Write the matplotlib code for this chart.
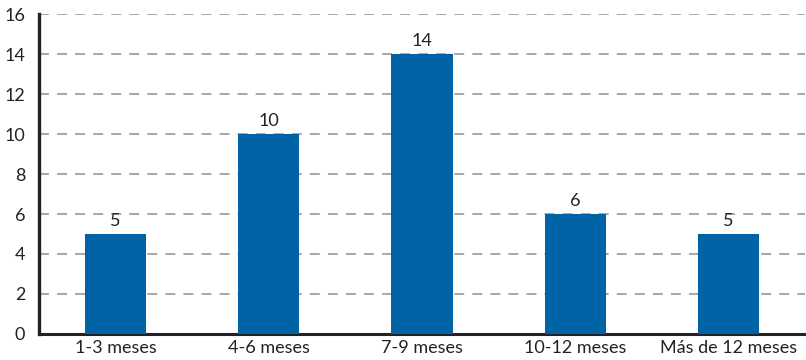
import matplotlib
matplotlib.use('Agg')
import matplotlib.pyplot as plt

# duración en meses
categorias = ['1-3 meses', '4-6 meses', '7-9 meses', '10-12 meses', 'Más de 12 meses']
valores = [5, 10, 14, 6, 5]
yticks = [0, 2, 4, 6, 8, 10, 12, 14, 16]

plt.rcParams['font.family'] = ['Lato', 'DejaVu Sans']
color_barra = '#0063a6'
color_texto = '#222222'

fig = plt.figure(figsize=(8.06, 3.6), dpi=100)
ax = fig.add_axes([39 / 806, 26 / 360, 766 / 806, 320 / 360])

x = list(range(len(categorias)))
barras = ax.bar(x, valores, width=0.4, color=color_barra, zorder=3)

for b, v in zip(barras, valores):
    ax.text(b.get_x() + b.get_width() / 2, v + 0.25, str(v),
            ha='center', va='bottom', fontsize=13, color=color_texto)

ax.set_xlim(-0.5, len(categorias) - 0.5)
ax.set_ylim(0, 16)
ax.set_yticks(yticks)
ax.set_xticks(x)
ax.set_xticklabels(categorias)

ax.yaxis.grid(True, linestyle=(0, (5.5, 4.5)), color='#a0a0a0', linewidth=1.3, zorder=0)
ax.set_axisbelow(True)

for s in ['top', 'right']:
    ax.spines[s].set_visible(False)
ax.spines['left'].set_linewidth(2.4)
ax.spines['bottom'].set_linewidth(2.2)
ax.spines['left'].set_color('#222222')
ax.spines['bottom'].set_color('#222222')

ax.tick_params(axis='both', length=0, labelsize=13, colors=color_texto)
ax.tick_params(axis='y', pad=10)
ax.tick_params(axis='x', pad=4)

fig.savefig('out.png', dpi=100)
